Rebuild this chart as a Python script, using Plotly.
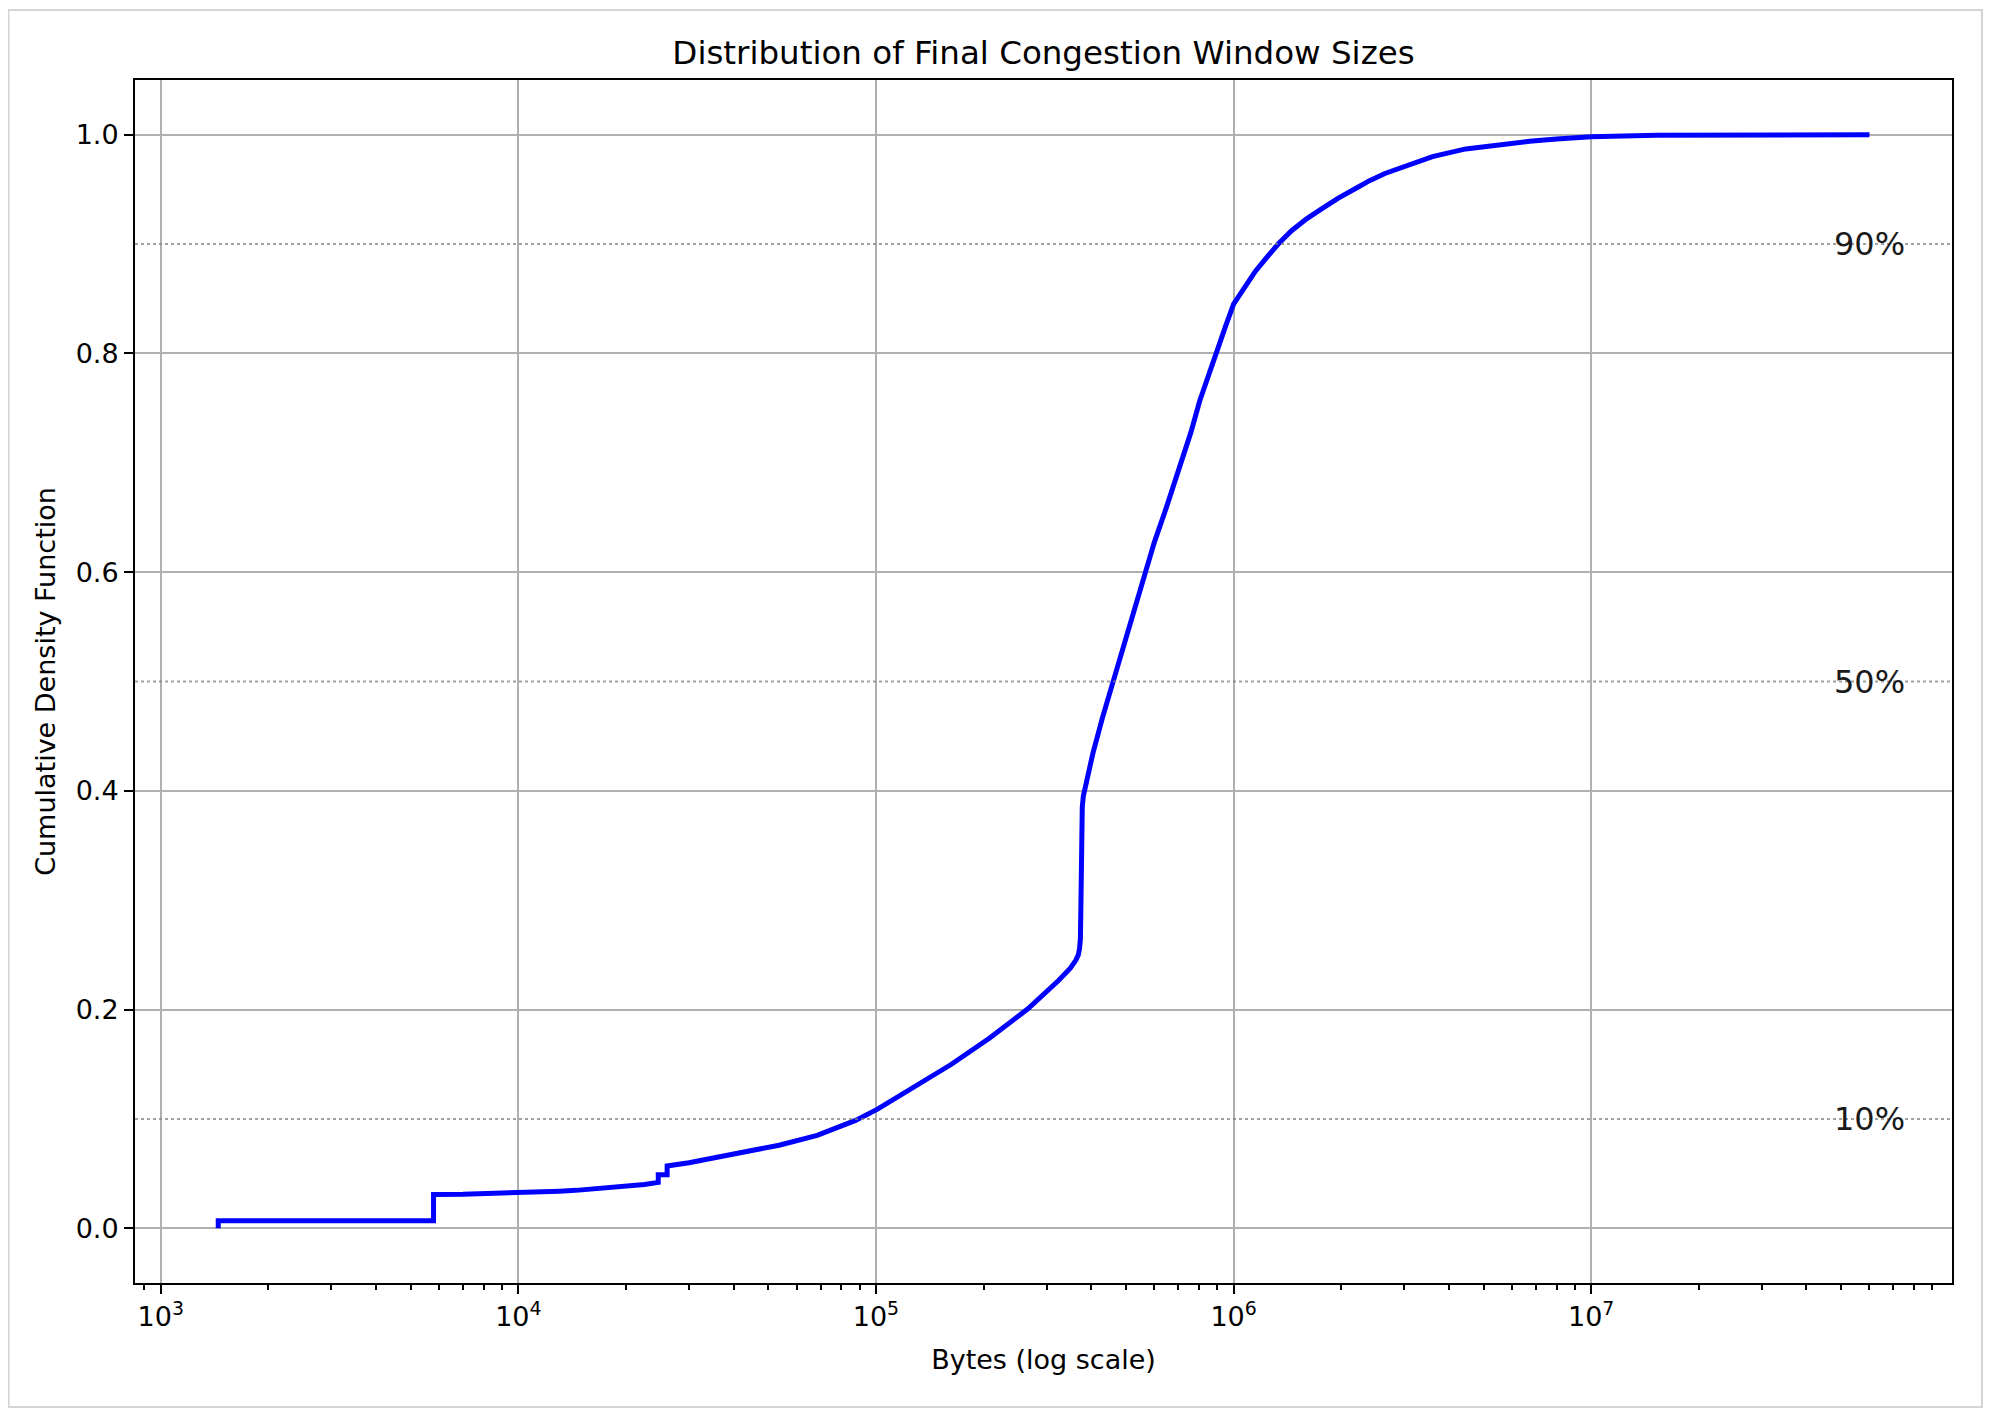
import math
import plotly.graph_objects as go

# ---- data (final congestion window, bytes vs CDF) ----
cwnd_bytes = [
    1448, 1448, 5792, 5792, 7000, 8688, 10000, 11584, 13032, 14480, 16000,
    18000, 20000, 22500, 24616, 24616, 26064, 26064, 30000, 37000, 45000,
    53600, 68500, 87700, 101000, 127000, 162600, 208000, 266000, 324000,
    350000, 362000, 368000, 371000, 373000, 374000, 375000, 376000, 377500,
    380000, 383000, 392000, 404000, 430000, 459600, 510000, 563600, 600000,
    648600, 706800, 760000, 804000, 850000, 900000, 950000, 1000000,
    1080000, 1150000, 1240000, 1333000, 1450000, 1600000, 1780000, 1963000,
    2200000, 2400000, 2650000, 2960000, 3600000, 4460000, 5500000, 6730000,
    8000000, 10000000, 15200000, 30000000, 60000000,
]
cdf = [
    0.000, 0.007, 0.007, 0.031, 0.0312, 0.0318, 0.0323, 0.0330, 0.0340,
    0.0347, 0.0357, 0.0368, 0.0384, 0.0400, 0.0420, 0.0490, 0.0490, 0.0570,
    0.0600, 0.0660, 0.0710, 0.0760, 0.0850, 0.0987, 0.1090, 0.1290, 0.1500,
    0.1740, 0.2007, 0.2266, 0.2380, 0.2450, 0.2500, 0.2560, 0.2650, 0.2900,
    0.3300, 0.3600, 0.3850, 0.3950, 0.4000, 0.4150, 0.4340, 0.4670, 0.4990,
    0.5500, 0.5990, 0.6270, 0.6590, 0.6956, 0.7280, 0.7565, 0.7800, 0.8030,
    0.8250, 0.8450, 0.8620, 0.8750, 0.8880, 0.9000, 0.9120, 0.9230, 0.9330,
    0.9420, 0.9510, 0.9580, 0.9645, 0.9705, 0.9800, 0.9870, 0.9910, 0.9940,
    0.9960, 0.9980, 0.9995, 1.0000, 1.0000,
]

percentile_levels = [0.1, 0.5, 0.9]
percentile_labels = ["10%", "50%", "90%"]

x_major_ticks = [1e3, 1e4, 1e5, 1e6, 1e7]
x_major_labels = ["10<sup>3</sup>", "10<sup>4</sup>", "10<sup>5</sup>",
                  "10<sup>6</sup>", "10<sup>7</sup>"]
y_ticks = [0.0, 0.2, 0.4, 0.6, 0.8, 1.0]
y_tick_labels = ["0.0", "0.2", "0.4", "0.6", "0.8", "1.0"]

title_text = "Distribution of Final Congestion Window Sizes"
x_title = "Bytes (log scale)"
y_title = "Cumulative Density Function"

FONT = "DejaVu Sans"

fig = go.Figure()
fig.add_trace(go.Scatter(
    x=cwnd_bytes, y=cdf, mode="lines",
    line=dict(color="#0000ff", width=5),
    showlegend=False, hoverinfo="skip",
))

# dotted percentile reference lines + labels
label_x = math.log10(max(cwnd_bytes))  # annotations on a log axis use log10 units
for lvl, lab in zip(percentile_levels, percentile_labels):
    fig.add_shape(type="line", xref="paper", x0=0, x1=1, yref="y", y0=lvl, y1=lvl,
                  line=dict(color="rgba(128,128,128,0.75)", width=2, dash="dot"),
                  layer="above")
    fig.add_annotation(x=label_x, y=lvl, xref="x", yref="y",
                       text=lab, showarrow=False, xanchor="center", yanchor="middle",
                       font=dict(family=FONT, size=32, color="#1a1a1a"))

# outer light-gray frame of the screenshot
fig.add_shape(type="rect", xref="paper", yref="paper",
              x0=-0.0696, x1=1.0165, y0=-0.1031, y1=1.0582,
              line=dict(color="#d4d4d4", width=2), fillcolor="rgba(0,0,0,0)",
              layer="below")

minor_vals = [m * 10 ** k for k in range(2, 8) for m in range(2, 10)]

axis_common = dict(
    showline=True, linecolor="black", linewidth=2, mirror=True,
    ticks="outside", ticklen=9, tickwidth=2, tickcolor="black",
    showgrid=True, gridcolor="#b0b0b0", gridwidth=2, zeroline=False,
    tickfont=dict(family=FONT, size=27, color="black"),
)

fig.update_layout(
    width=1983, height=1405,
    margin=dict(l=127, r=39, t=72, b=130, pad=0),
    paper_bgcolor="white", plot_bgcolor="white",
    title=dict(text=title_text, x=0.5, xref="paper", xanchor="center",
               y=1 - 45 / 1405, yref="container", yanchor="middle",
               font=dict(family=FONT, size=32.5, color="black")),
    xaxis=dict(
        type="log", range=[2.928, 8.009],
        tickmode="array", tickvals=x_major_ticks, ticktext=x_major_labels,
        minor=dict(tickmode="array", tickvals=minor_vals, ticks="outside",
                   ticklen=5, tickwidth=1.5, tickcolor="black", showgrid=False),
        title=dict(text=x_title, font=dict(family=FONT, size=27, color="black"),
                   standoff=19),
        **axis_common,
    ),
    yaxis=dict(
        range=[-0.05, 1.05],
        tickmode="array", tickvals=y_ticks, ticktext=y_tick_labels,
        title=dict(text=y_title, font=dict(family=FONT, size=27, color="black"),
                   standoff=12),
        **axis_common,
    ),
)

fig.write_html("out.html")
